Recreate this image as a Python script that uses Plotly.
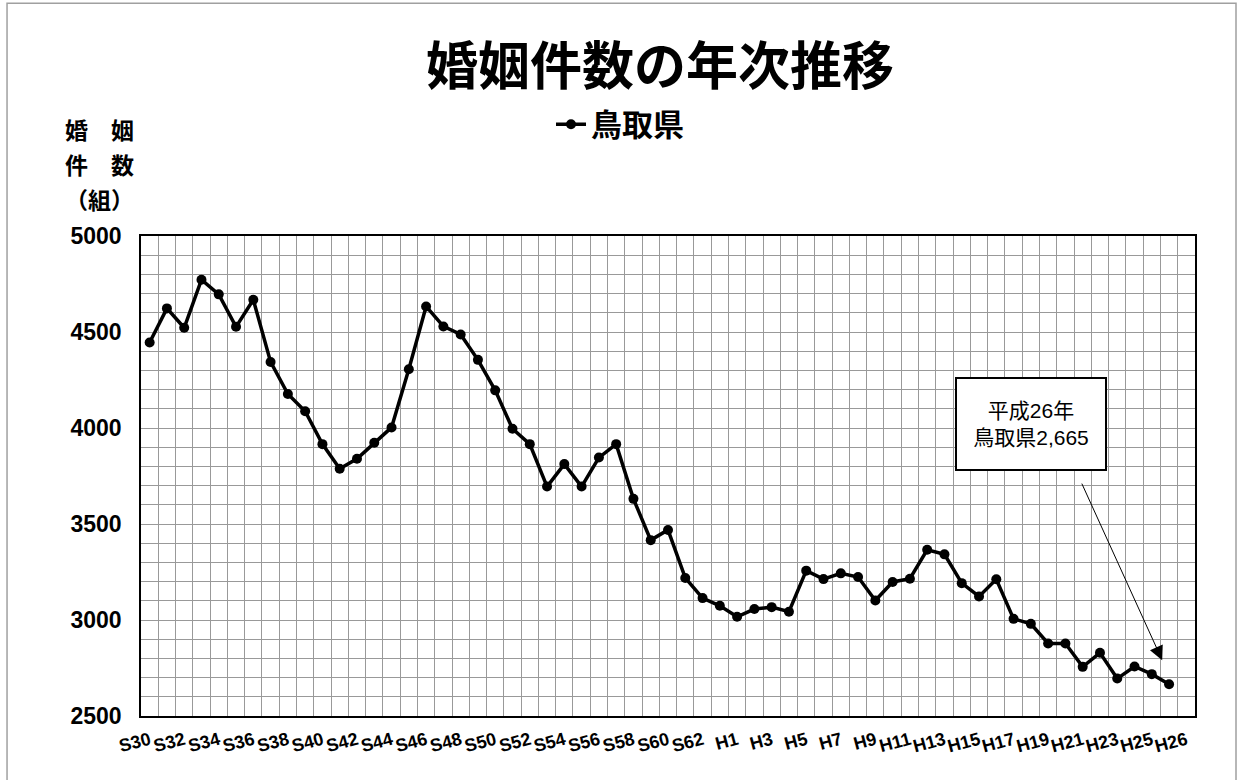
import plotly.graph_objects as go

# ---- data ----
eras = ["S%d" % n for n in range(30, 64)] + ["H%d" % n for n in range(1, 27)]
counts = [4445, 4623, 4522, 4772, 4696, 4527, 4668, 4344, 4177, 4087,
          3916, 3788, 3840, 3923, 4003, 4306, 4633, 4529, 4487, 4355,
          4196, 3996, 3916, 3695, 3812, 3695, 3846, 3916, 3631, 3416,
          3469, 3219, 3114, 3074,
          3017, 3057, 3067, 3043, 3257, 3213, 3243, 3224, 3102, 3198,
          3215, 3366, 3342, 3192, 3123, 3212, 3006, 2980, 2878, 2878,
          2756, 2829, 2695, 2758, 2718, 2665]
tick_labels = ["S%d" % n for n in range(30, 63, 2)] + ["H%d" % n for n in range(1, 26, 2)] + ["H26"]
series_name = "鳥取県"
title_text = "婚姻件数の年次推移"
note_text = "平成26年<br>鳥取県2,665"

xs = list(range(len(eras)))
# rotated labels end at their tick; the final label sits one slot further right
tick_vals = [eras.index(t) for t in tick_labels]
tick_vals[-1] += 1

LAT = "Liberation Sans, Arial, Noto Sans CJK JP"
CJK = "Noto Sans CJK JP, Liberation Sans"

fig = go.Figure()
fig.add_trace(go.Scatter(
    x=xs, y=counts, mode="lines+markers", name=series_name,
    line=dict(color="black", width=3.5),
    marker=dict(color="black", size=10),
))

fig.update_layout(
    width=1237, height=780,
    paper_bgcolor="white", plot_bgcolor="white",
    margin=dict(l=141, r=42, t=236, b=64),
    title=dict(text=title_text, x=0.5336, xref="container", xanchor="center",
               y=0.914, yref="container", yanchor="middle",
               font=dict(family=CJK, size=52, color="black", weight="bold")),
    showlegend=True,
    legend=dict(x=0.389, y=1.232, xanchor="left", yanchor="middle",
                font=dict(family=CJK, size=31, color="black", weight="bold"),
                bgcolor="rgba(0,0,0,0)", itemwidth=30),
    xaxis=dict(range=[-0.5, 60.5], tickmode="array", tickvals=tick_vals, ticktext=tick_labels,
               tickangle=-15, ticks="", showgrid=False, zeroline=False,
               showline=True, linecolor="black", linewidth=1.5, mirror=True,
               ticklabelstandoff=5,
               tickfont=dict(family=LAT, size=18, color="black", weight="bold"),
               minor=dict(tick0=-0.5, dtick=1, showgrid=True, gridcolor="#999999", gridwidth=1, ticks="")),
    yaxis=dict(range=[2500, 5000], dtick=500, ticks="", showgrid=True, gridcolor="#999999",
               gridwidth=1, zeroline=False,
               showline=True, linecolor="black", linewidth=1.5, mirror=True,
               ticklabelstandoff=13,
               tickfont=dict(family=LAT, size=23, color="black", weight="bold"),
               minor=dict(dtick=100, showgrid=True, gridcolor="#999999", gridwidth=1, ticks="")),
)

# y-axis title (stacked)
for txt, yy in [("婚　姻", 1.2221), ("件　数", 1.149), ("（組）", 1.078)]:
    fig.add_annotation(text=txt, xref="paper", yref="paper", x=-0.0389, y=yy,
                       xanchor="center", yanchor="middle", showarrow=False,
                       font=dict(family=CJK, size=23, color="black", weight="bold"))

# callout box
fig.add_annotation(text=note_text, x=51, y=4022, xref="x", yref="y", showarrow=False,
                   width=146, height=88, bordercolor="black", borderwidth=2, bgcolor="white",
                   font=dict(family=LAT, size=21, color="black"), align="center")
# arrow
fig.add_annotation(text="", x=58.6, y=2791, xref="x", yref="y", showarrow=True,
                   ax=-81, ay=-178, arrowhead=2, arrowsize=2.8, arrowwidth=1, arrowcolor="black")

# outer frame
fig.add_shape(type="rect", xref="paper", yref="paper",
              x0=-0.1271, x1=1.0389, y0=-0.16, y1=1.485,
              line=dict(color="#a0a0a0", width=1.5), fillcolor="rgba(0,0,0,0)", layer="below")

fig.write_html("out.html", config={"displayModeBar": False},
               post_script="document.body.style.margin='0';")
